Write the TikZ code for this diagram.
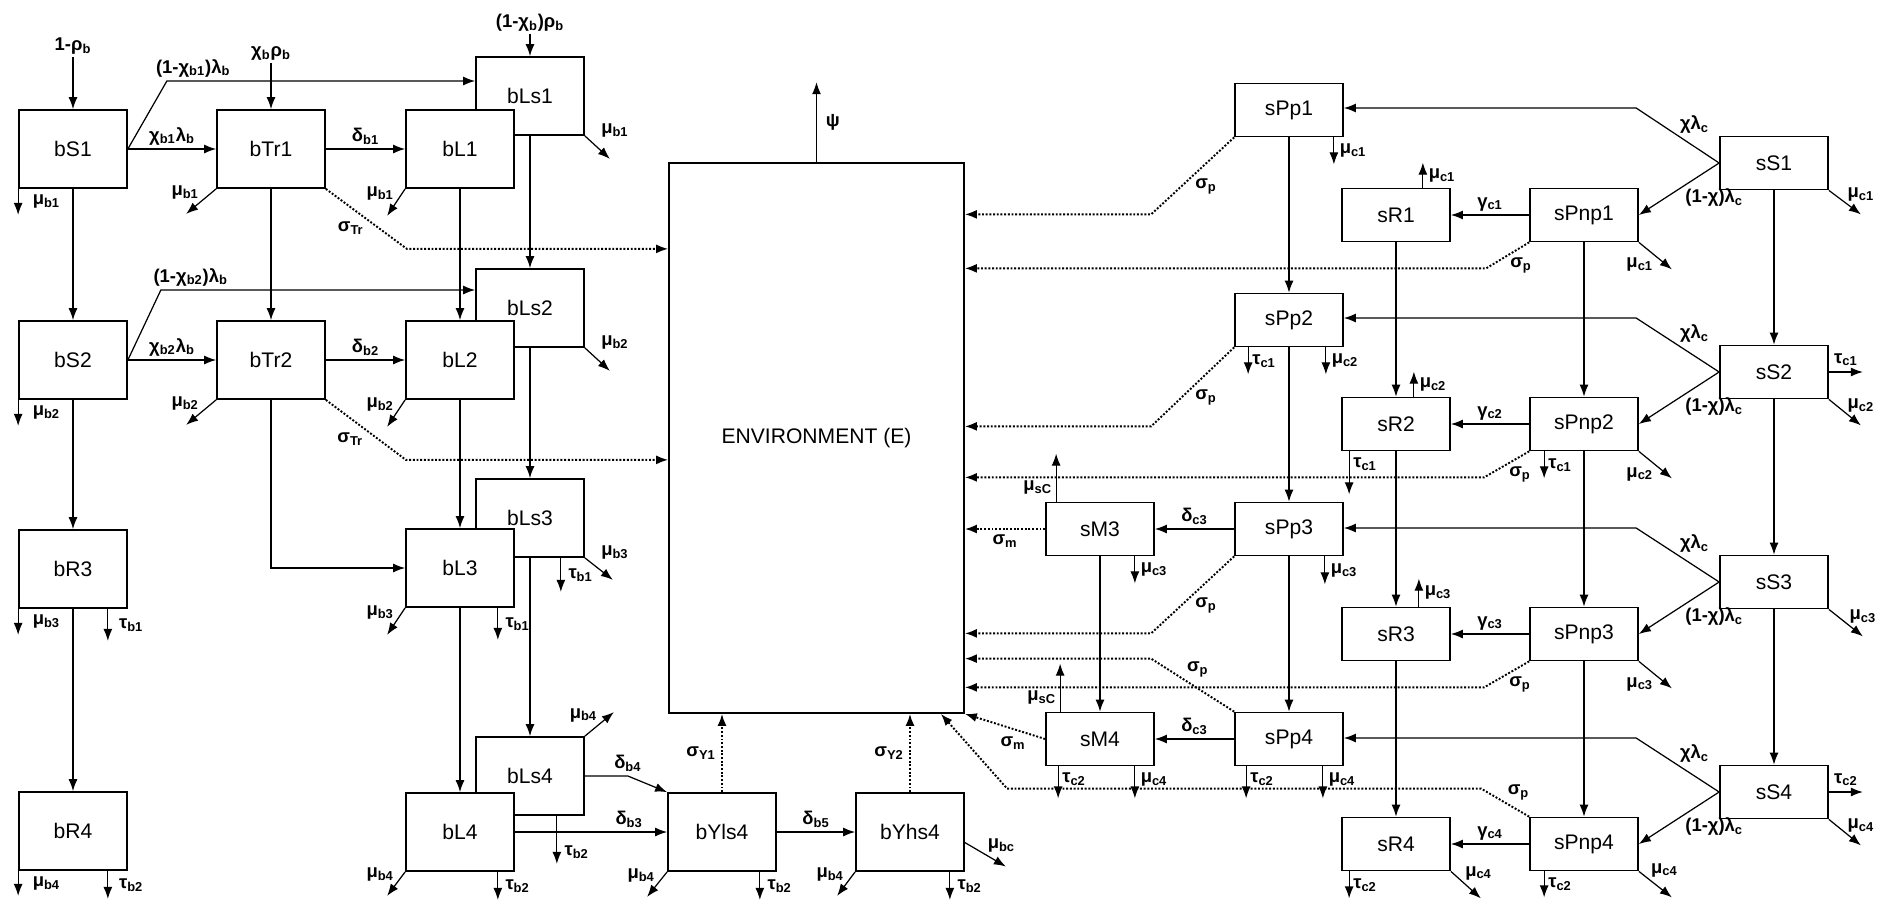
\documentclass[tikz,border=0pt]{standalone}
\usepackage{fontspec}
\setmainfont{Liberation Sans}
\usepackage{tikz}
\usetikzlibrary{arrows.meta, calc}
\newcommand{\ix}[1]{\textsubscript{#1}}

\begin{document}
\begin{tikzpicture}[x=0.02cm, y=-0.02cm,
  bcomp/.style={draw, line width=1pt, fill=white, minimum width=2.16cm, minimum height=1.56cm, inner sep=0pt, font=\fontsize{12}{14}\selectfont},
  scomp/.style={bcomp, minimum height=1.06cm},
  arr/.style={-{Latex[length=2.4mm,width=1.8mm]}, line width=0.7pt},
  arrin/.style={{Latex[length=2.4mm,width=1.8mm]}-, line width=0.7pt},
  dotarr/.style={arr, dash pattern=on 1.1pt off 1pt, line width=1.1pt},
  lab/.style={font=\fontsize{10.5}{12}\selectfont\bfseries, inner sep=1pt}
]
  \useasboundingbox (0,0) rectangle (1877,900);

  \node[bcomp] (bS1) at (73,149) {bS1};
  \node[bcomp] (bTr1) at (271,149) {bTr1};
  \node[bcomp] (bLs1) at (530,96) {bLs1};
  \node[bcomp] (bL1) at (460,149) {bL1};
  \node[bcomp] (bS2) at (73,360) {bS2};
  \node[bcomp] (bTr2) at (271,360) {bTr2};
  \node[bcomp] (bLs2) at (530,308) {bLs2};
  \node[bcomp] (bL2) at (460,360) {bL2};
  \node[bcomp] (bR3) at (73,569) {bR3};
  \node[bcomp] (bLs3) at (530,518) {bLs3};
  \node[bcomp] (bL3) at (460,568) {bL3};
  \node[bcomp] (bR4) at (73,831) {bR4};
  \node[bcomp] (bLs4) at (530,776) {bLs4};
  \node[bcomp] (bL4) at (460,832) {bL4};
  \node[bcomp] (bYls4) at (722,832) {bYls4};
  \node[bcomp] (bYhs4) at (910,832) {bYhs4};

  \node[draw, line width=1pt, minimum width=5.9cm, minimum height=11cm, font=\fontsize{12}{14}\selectfont] (env) at (816.5,438) {ENVIRONMENT (E)};

  \node[scomp] (sPp1) at (1289,110) {sPp1};
  \node[scomp] (sR1) at (1396,215) {sR1};
  \node[scomp] (sPnp1) at (1584,215) {sPnp1};
  \node[scomp] (sS1) at (1774,163) {sS1};
  \node[scomp] (sPp2) at (1289,320) {sPp2};
  \node[scomp] (sR2) at (1396,424) {sR2};
  \node[scomp] (sPnp2) at (1584,424) {sPnp2};
  \node[scomp] (sS2) at (1774,372) {sS2};
  \node[scomp] (sM3) at (1100,529) {sM3};
  \node[scomp] (sPp3) at (1289,529) {sPp3};
  \node[scomp] (sR3) at (1396,634) {sR3};
  \node[scomp] (sPnp3) at (1584,634) {sPnp3};
  \node[scomp] (sS3) at (1774,582) {sS3};
  \node[scomp] (sM4) at (1100,739) {sM4};
  \node[scomp] (sPp4) at (1289,739) {sPp4};
  \node[scomp] (sR4) at (1396,844) {sR4};
  \node[scomp] (sPnp4) at (1584,844) {sPnp4};
  \node[scomp] (sS4) at (1774,792) {sS4};

  \draw[arrin] (bS1.north) -- ++(0,-52) node[lab,above]{1-ρ\ix{b}};
  \draw[arrin] (bTr1.north) -- ++(0,-46) node[lab,above]{χ\ix{b}ρ\ix{b}};
  \draw[arrin] (bLs1.north) -- ++(0,-22) node[lab,above]{(1-χ\ix{b})ρ\ix{b}};
  \draw[arr] (bS1) -- node[lab,above=1pt]{χ\ix{b1}λ\ix{b}} (bTr1);
  \draw[arr] (bTr1) -- node[lab,above=1pt]{δ\ix{b1}} (bL1);
  \draw[arr] (bS1.east) -- ++(39,-68) coordinate (k1) node[lab,above=1pt,xshift=15pt]{(1-χ\ix{b1})λ\ix{b}} -- (k1 -| bLs1.west);
  \draw[arr] (bS1.south west) -- ++(0,26) node[lab,midway,right=7pt]{μ\ix{b1}};
  \draw[arr] (bTr1.south west) -- ++(-30,25) node[lab,midway,above left]{μ\ix{b1}};
  \draw[arr] (bL1.south west) -- ++(-18,27) node[lab,midway,above left]{μ\ix{b1}};
  \draw[arr] (bLs1.south east) node[lab,right=8pt,yshift=3pt]{μ\ix{b1}} -- ++(25,23);
  \draw[dotarr] (bTr1.south east) -- ++(81,60) coordinate (k2) node[lab,pos=.5,below left]{σ\ix{Tr}} -- (k2 -| env.west);
  \draw[arr] (bS1) -- (bS2);
  \draw[arr] (bTr1) -- (bTr2);
  \draw[arr] (bL1) -- (bL2);
  \draw[arr] (bLs1) -- (bLs2);

  \draw[arr] (bS2) -- node[lab,above=1pt]{χ\ix{b2}λ\ix{b}} (bTr2);
  \draw[arr] (bTr2) -- node[lab,above=1pt]{δ\ix{b2}} (bL2);
  \draw[arr] (bS2.east) -- ++(33,-70) coordinate (k3) node[lab,above=1pt,xshift=17pt]{(1-χ\ix{b2})λ\ix{b}} -- (k3 -| bLs2.west);
  \draw[arr] (bS2.south west) -- ++(0,26) node[lab,midway,right=7pt]{μ\ix{b2}};
  \draw[arr] (bTr2.south west) -- ++(-30,25) node[lab,midway,above left]{μ\ix{b2}};
  \draw[arr] (bL2.south west) -- ++(-18,27) node[lab,midway,above left]{μ\ix{b2}};
  \draw[arr] (bLs2.south east) node[lab,right=8pt,yshift=3pt]{μ\ix{b2}} -- ++(25,23);
  \draw[dotarr] (bTr2.south east) -- ++(80,60) coordinate (k4) node[lab,pos=.5,below left]{σ\ix{Tr}} -- (k4 -| env.west);
  \draw[arr] (bS2) -- (bR3);
  \draw[arr] (bTr2) |- (bL3);
  \draw[arr] (bL2) -- (bL3);
  \draw[arr] (bLs2) -- (bLs3);

  \draw[arr] (bR3.south west) -- ++(0,26) node[lab,midway,right=7pt]{μ\ix{b3}};
  \draw[arr] (bR3.south east) ++(-20,0) -- ++(0,32) node[lab,midway,right=5pt]{τ\ix{b1}};
  \draw[arr] (bR3) -- (bR4);
  \draw[arr] (bR4.south west) -- ++(0,25) node[lab,midway,right=7pt]{μ\ix{b4}};
  \draw[arr] (bR4.south east) ++(-20,0) -- ++(0,28) node[lab,midway,right=5pt]{τ\ix{b2}};

  \draw[arr] (bLs3.south east) node[lab,right=8pt,yshift=3pt]{μ\ix{b3}} -- ++(28,22);
  \draw[arr] (bLs3.south east) ++(-24,0) -- ++(0,34) node[lab,midway,right=3pt]{τ\ix{b1}};
  \draw[arr] (bL3.south west) -- ++(-18,27) node[lab,midway,above left]{μ\ix{b3}};
  \draw[arr] (bL3.south east) ++(-17,0) -- ++(0,32) node[lab,midway,right=3pt]{τ\ix{b1}};
  \draw[arr] (bL3) -- (bL4);
  \draw[arr] (bLs3) -- (bLs4);

  \draw[arr] (bLs4.north east) -- ++(29,-24) node[lab,midway,above left]{μ\ix{b4}};
  \draw[arr] (bLs4.south east) ++(-28,0) -- ++(0,48) node[lab,pos=.75,right=3pt]{τ\ix{b2}};
  \draw[arr] (bL4.south west) -- ++(-18,24) node[lab,midway,above left]{μ\ix{b4}};
  \draw[arr] (bL4.south east) ++(-17,0) -- ++(0,28) node[lab,midway,right=3pt]{τ\ix{b2}};
  \draw[arr] (bLs4.east) -- ++(43,0) node[lab,above=1pt]{δ\ix{b4}} -- (bYls4.north west);
  \draw[arr] (bL4) -- node[lab,above=1pt,pos=.75]{δ\ix{b3}} (bYls4);

  \draw[arr] (bYls4) -- node[lab,above=1pt]{δ\ix{b5}} (bYhs4);
  \draw[dotarr] (bYls4.north) -- (bYls4.north |- env.south) node[lab,midway,left=2pt]{σ\ix{Y1}};
  \draw[dotarr] (bYhs4.north) -- (bYhs4.north |- env.south) node[lab,midway,left=2pt]{σ\ix{Y2}};
  \draw[arr] (bYls4.south west) -- ++(-20,25) node[lab,midway,above left]{μ\ix{b4}};
  \draw[arr] (bYls4.south east) ++(-17,0) -- ++(0,28) node[lab,midway,right=3pt]{τ\ix{b2}};
  \draw[arr] (bYhs4.south west) -- ++(-18,24) node[lab,midway,above left]{μ\ix{b4}};
  \draw[arr] (bYhs4.south east) ++(-15,0) -- ++(0,28) node[lab,midway,right=3pt]{τ\ix{b2}};
  \draw[arr] ([yshift=-6pt]bYhs4.east) -- ++(41,24) node[lab,midway,above right]{μ\ix{bc}};
  \draw[arr] (env.north) -- ++(0,-80) node[lab,midway,right=4pt]{ψ};

  \draw[arr] (sPp1.south east) ++(-10,0) -- ++(0,27) node[lab,midway,right=2pt]{μ\ix{c1}};
  \draw[dotarr] (sPp1.south west) -- ++(-83,77) coordinate (m1) node[lab,pos=.5,below right]{σ\ix{p}} -- (m1 -| env.east);
  \draw[arr] (sPp1) -- (sPp2);
  \draw[arr] (sR1.north east) ++(-28,0) -- ++(0,-25) node[lab,midway,right=2pt]{μ\ix{c1}};
  \draw[arr] (sR1) -- (sR2);
  \draw[arr] (sPnp1) -- node[lab,above=1pt]{γ\ix{c1}} (sR1);
  \draw[arr] (sS1.west) -- ++(-83,-55) coordinate (m2) node[lab,pos=.5,above right]{χλ\ix{c}} -- (m2 -| sPp1.east);
  \draw[arr] (sS1.west) -- node[lab,pos=.45,below right]{(1-χ)λ\ix{c}} (sPnp1.east);
  \draw[arr] (sS1.south east) -- ++(32,24) node[lab,above=6pt]{μ\ix{c1}};
  \draw[arr] (sS1) -- (sS2);
  \draw[arr] (sPnp1.south east) -- ++(33,27) node[lab,midway,below left]{μ\ix{c1}};
  \draw[dotarr] (sPnp1.south west) -- ++(-43,26) coordinate (m3) node[lab,pos=.5,below right]{σ\ix{p}} -- (m3 -| env.east);
  \draw[arr] (sPnp1) -- (sPnp2);

  \draw[arr] (sPp2.south west) ++(14,0) -- ++(0,27) node[lab,midway,right=1pt]{τ\ix{c1}};
  \draw[arr] (sPp2.south east) ++(-18,0) -- ++(0,27) node[lab,midway,right=2pt]{μ\ix{c2}};
  \draw[dotarr] (sPp2.south west) -- ++(-83,79) coordinate (m4) node[lab,pos=.5,below right]{σ\ix{p}} -- (m4 -| env.east);
  \draw[arr] (sPp2) -- (sPp3);
  \draw[arr] (sR2.north east) ++(-37,0) -- ++(0,-25) node[lab,midway,right=2pt]{μ\ix{c2}};
  \draw[arr] (sR2.south west) ++(8,0) -- ++(0,43) node[lab,pos=.3,right=1pt]{τ\ix{c1}};
  \draw[arr] (sR2) -- (sR3);
  \draw[arr] (sPnp2) -- node[lab,above=1pt]{γ\ix{c2}} (sR2);
  \draw[arr] (sS2.west) -- ++(-83,-54) coordinate (m5) node[lab,pos=.5,above right]{χλ\ix{c}} -- (m5 -| sPp2.east);
  \draw[arr] (sS2.west) -- node[lab,pos=.45,below right]{(1-χ)λ\ix{c}} (sPnp2.east);
  \draw[arr] (sS2.east) -- ++(34,0) node[lab,midway,above=2pt]{τ\ix{c1}};
  \draw[arr] (sS2.south east) -- ++(32,26) node[lab,above=6pt]{μ\ix{c2}};
  \draw[arr] (sS2) -- (sS3);
  \draw[arr] (sPnp2.south west) ++(15,0) -- ++(0,27) node[lab,midway,right=1pt]{τ\ix{c1}};
  \draw[arr] (sPnp2.south east) -- ++(33,27) node[lab,midway,below left]{μ\ix{c2}};
  \draw[dotarr] (sPnp2.south west) -- ++(-45,26) coordinate (m6) node[lab,pos=.5,below right]{σ\ix{p}} -- (m6 -| env.east);
  \draw[arr] (sPnp2) -- (sPnp3);

  \draw[arr] (sPp3) -- node[lab,above=1pt]{δ\ix{c3}} (sM3);
  \draw[arr] (sM3.north west) ++(11,0) -- ++(0,-48) node[lab,pos=.3,left=1pt]{μ\ix{sC}};
  \draw[dotarr] (sM3.west) -- (sM3.west -| env.east) node[lab,midway,below=2pt]{σ\ix{m}};
  \draw[arr] (sM3.south east) ++(-20,0) -- ++(0,27) node[lab,midway,right=2pt]{μ\ix{c3}};
  \draw[arr] (sM3) -- (sM4);
  \draw[arr] (sPp3.south east) ++(-19,0) -- ++(0,28) node[lab,midway,right=2pt]{μ\ix{c3}};
  \draw[dotarr] (sPp3.south west) -- ++(-83,77) coordinate (m7) node[lab,pos=.5,below right]{σ\ix{p}} -- (m7 -| env.east);
  \draw[arr] (sPp3) -- (sPp4);
  \draw[arr] (sR3.north east) ++(-32,0) -- ++(0,-28) node[lab,midway,right=2pt]{μ\ix{c3}};
  \draw[arr] (sR3) -- (sR4);
  \draw[arr] (sPnp3) -- node[lab,above=1pt]{γ\ix{c3}} (sR3);
  \draw[arr] (sS3.west) -- ++(-83,-54) coordinate (m8) node[lab,pos=.5,above right]{χλ\ix{c}} -- (m8 -| sPp3.east);
  \draw[arr] (sS3.west) -- node[lab,pos=.45,below right]{(1-χ)λ\ix{c}} (sPnp3.east);
  \draw[arr] (sS3.south east) -- ++(34,27) node[lab,above=6pt]{μ\ix{c3}};
  \draw[arr] (sS3) -- (sS4);
  \draw[arr] (sPnp3.south east) -- ++(33,27) node[lab,midway,below left]{μ\ix{c3}};
  \draw[dotarr] (sPnp3.south west) -- ++(-45,26) coordinate (m9) node[lab,pos=.5,below right]{σ\ix{p}} -- (m9 -| env.east);
  \draw[arr] (sPnp3) -- (sPnp4);

  \draw[dotarr] (sPp4.north west) -- ++(-83,-53) coordinate (m10) node[lab,pos=.6,above right]{σ\ix{p}} -- (m10 -| env.east);
  \draw[arr] (sPp4) -- node[lab,above=1pt]{δ\ix{c3}} (sM4);
  \draw[arr] (sM4.north west) ++(15,0) -- ++(0,-48) node[lab,pos=.3,left=1pt]{μ\ix{sC}};
  \draw[dotarr] (sM4.west) -- (env.south east) node[lab,pos=.4,below=3pt]{σ\ix{m}};
  \draw[arr] (sM4.south west) ++(13,0) -- ++(0,32) node[lab,pos=.4,right=1pt]{τ\ix{c2}};
  \draw[arr] (sM4.south east) ++(-20,0) -- ++(0,32) node[lab,pos=.4,right=2pt]{μ\ix{c4}};
  \draw[arr] (sPp4.south west) ++(12,0) -- ++(0,32) node[lab,pos=.4,right=1pt]{τ\ix{c2}};
  \draw[arr] (sPp4.south east) ++(-21,0) -- ++(0,32) node[lab,pos=.4,right=2pt]{μ\ix{c4}};
  \draw[arr] (sR4.south west) ++(8,0) -- ++(0,27) node[lab,midway,right=1pt]{τ\ix{c2}};
  \draw[arr] (sR4.south east) -- ++(30,27) node[lab,pos=.4,above right]{μ\ix{c4}};
  \draw[arr] (sPnp4) -- node[lab,above=1pt]{γ\ix{c4}} (sR4);
  \draw[arr] (sS4.west) -- ++(-83,-54) coordinate (m11) node[lab,pos=.5,above right]{χλ\ix{c}} -- (m11 -| sPp4.east);
  \draw[arr] (sS4.west) -- node[lab,pos=.45,below right]{(1-χ)λ\ix{c}} (sPnp4.east);
  \draw[arr] (sS4.east) -- ++(34,0) node[lab,midway,above=2pt]{τ\ix{c2}};
  \draw[arr] (sS4.south east) -- ++(32,26) node[lab,above=6pt]{μ\ix{c4}};
  \draw[arr] (sPnp4.south east) -- ++(33,26) node[lab,pos=.3,above right]{μ\ix{c4}};
  \draw[arr] (sPnp4.south west) ++(15,0) -- ++(0,26) node[lab,midway,right=1pt]{τ\ix{c2}};
  \draw[dotarr] (sPnp4.north west) -- ++(-48,-28) coordinate (m12) node[lab,pos=.5,above right]{σ\ix{p}} -- ++(-474,0) -- ($(env.south east)+(-24,0)$);
\end{tikzpicture}
\end{document}
